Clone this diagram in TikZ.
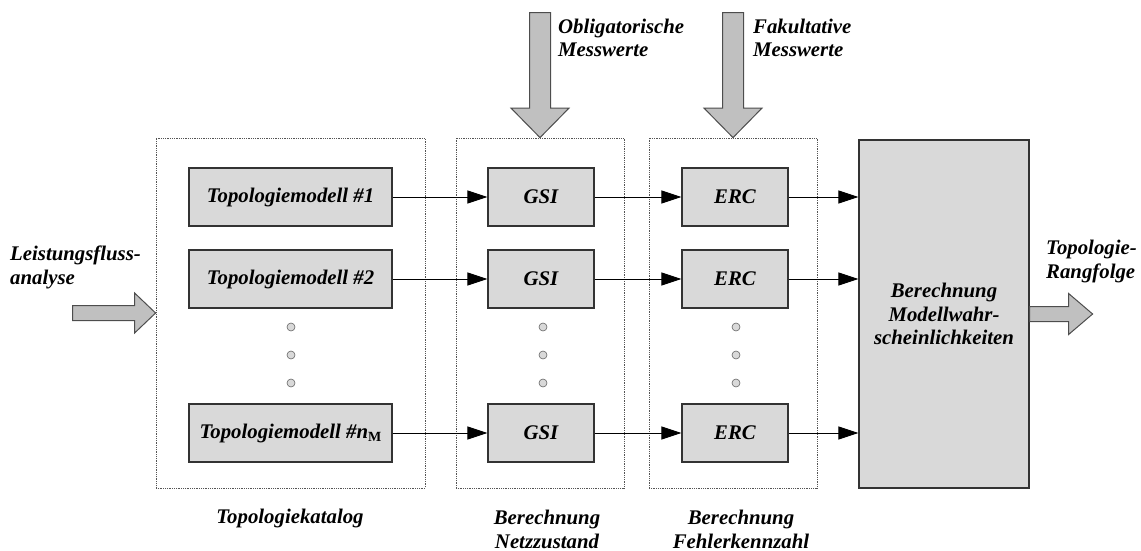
\documentclass[tikz,border=0pt]{standalone}
\usepackage{fontspec}
\setmainfont{Liberation Serif}
\usetikzlibrary{arrows.meta,calc}

\definecolor{boxfill}{HTML}{D9D9D9}
\definecolor{boxline}{HTML}{333333}
\definecolor{arrowfill}{HTML}{C0C0C0}
\definecolor{arrowline}{HTML}{4D4D4D}
\definecolor{frameline}{HTML}{555555}
\definecolor{dotline}{HTML}{666666}

\tikzset{
  lbl/.style={font=\fontsize{20.8}{23.5}\selectfont\bfseries\itshape, inner sep=0pt},
  frame/.style={draw=frameline, densely dotted, line width=0.8pt, inner sep=0pt},
  procbox/.style={draw=boxline, fill=boxfill, line width=1.2pt, inner sep=0pt,
    font=\fontsize{20.8}{23.5}\selectfont\bfseries\itshape},
  conn/.style={line width=0.9pt, -{Triangle[length=20pt,width=13pt]}},
  blockarrow/.style={draw=arrowline, fill=arrowfill, line width=1pt, line join=miter},
  ellipsis/.style={circle, draw=dotline, fill=boxfill, line width=0.6pt,
    minimum size=8pt, inner sep=0pt}
}

\begin{document}
\begin{tikzpicture}[x=1pt, y=-1pt]
\useasboundingbox (0,0) rectangle (1141,551);

% dotted group frames
\node[frame, minimum width=269pt, minimum height=350pt] (f1) at (290.5,313) {};
\node[frame, minimum width=168pt, minimum height=350pt] (f2) at (540,313) {};
\node[frame, minimum width=168pt, minimum height=350pt] (f3) at (733,313) {};

% probability block
\node[procbox, minimum width=170pt, minimum height=348pt, align=center] (big) at (944,314)
  {Berechnung\\Modellwahr-\\scheinlichkeiten};

% topology models
\node[procbox, minimum width=203pt, minimum height=58pt] (t1) at (290.5,197) {Topologiemodell \#1};
\node[procbox, minimum width=203pt, minimum height=58pt] (t2) at (290.5,279) {Topologiemodell \#2};
\node[procbox, minimum width=203pt, minimum height=58pt] (t3) at (290.5,433)
  {Topologiemodell \#\textit{n}\raisebox{-3pt}{\fontsize{14}{14}\selectfont\upshape M}};

% state estimation
\node[procbox, minimum width=106pt, minimum height=58pt] (g1) at (541,197) {GSI};
\node[procbox, minimum width=106pt, minimum height=58pt] (g2) at (541,279) {GSI};
\node[procbox, minimum width=106pt, minimum height=58pt] (g3) at (541,433) {GSI};

% error figures
\node[procbox, minimum width=106pt, minimum height=58pt] (e1) at (735,197) {ERC};
\node[procbox, minimum width=106pt, minimum height=58pt] (e2) at (735,279) {ERC};
\node[procbox, minimum width=106pt, minimum height=58pt] (e3) at (735,433) {ERC};

% ellipsis dots
\foreach \x/\n in {291/a,543/b,736/c}{
  \foreach \y/\m in {327/1,355/2,383/3}{
    \node[ellipsis] (d\n\m) at (\x,\y) {};
  }
}

% connectors
\foreach \i in {1,2,3}{
  \draw[conn] (t\i) -- (g\i);
  \draw[conn] (g\i) -- (e\i);
  \draw[conn] (e\i) -- (e\i -| big.west);
}

% block arrows: measurements in
\coordinate (in1) at (f2.north -| 540,0);
\coordinate (in2) at (f3.north -| 733,0);
\foreach \c in {in1,in2}{
  \filldraw[blockarrow] (\c) -- ++(-29,-29.5) -- ++(18.5,0) -- ++(0,-95.5) -- ++(21,0)
    -- ++(0,95.5) -- ++(18.5,0) -- cycle;
}

% block arrow: load flow in
\coordinate (lf) at (f1.west |- 0,313);
\filldraw[blockarrow] (lf) -- ++(-21,-20) -- ++(0,12.5) -- ++(-62,0) -- ++(0,15)
  -- ++(62,0) -- ++(0,12.5) -- cycle;

% block arrow: ranking out
\coordinate (rk) at (big.east |- 0,314);
\filldraw[blockarrow] (rk) -- ++(0,-7.5) -- ++(39,0) -- ++(0,-13) -- ++(24,20.5)
  -- ++(-24,20.5) -- ++(0,-13) -- ++(-39,0) -- cycle;

% labels (multi-line labels are placed by the baseline of their last line)
\node[lbl, anchor=base west, align=left] (lin) at (10,284) {Leistungsfluss-\\analyse};
\node[lbl, anchor=base west, align=left] (lob) at (558,57) {Obligatorische\\Messwerte};
\node[lbl, anchor=base west, align=left] (lfa) at (753,57) {Fakultative\\Messwerte};
\node[lbl, anchor=base west, align=left] (lrk) at (1046,278) {Topologie-\\Rangfolge};
\node[lbl, anchor=base] (lkat) at (290,523) {Topologiekatalog};
\node[lbl, anchor=base, align=center] (lnz) at (547,548) {Berechnung\\Netzzustand};
\node[lbl, anchor=base, align=center] (lfk) at (741,548) {Berechnung\\Fehlerkennzahl};
\end{tikzpicture}
\end{document}
